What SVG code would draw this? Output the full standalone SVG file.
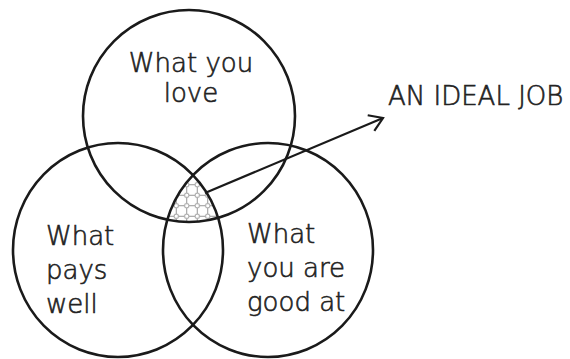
<svg xmlns="http://www.w3.org/2000/svg" width="570" height="359" viewBox="0 0 570 359">
  <style>
    .ring { fill: none; stroke: #1a1a1a; stroke-width: 2.6; }
    .lbl { font-family: "DejaVu Sans", "Liberation Sans", sans-serif; font-size: 26px; font-weight: 300; fill: #222; stroke: #222; stroke-width: 0.6; }
    .conn { fill: none; stroke: #1a1a1a; stroke-width: 2.2; }
  </style>
  <defs>
    <pattern id="net" x="3" y="1" width="10.5" height="10.5" patternUnits="userSpaceOnUse">
      <rect width="10.5" height="10.5" fill="#fff"/>
      <path d="M5.25 0V10.5M0 5.25H10.5" stroke="#8a8a8a" stroke-width="0.9"/>
      <circle cx="5.25" cy="5.25" r="2.3" fill="#fff" stroke="#8a8a8a" stroke-width="0.9"/>
    </pattern>
    <clipPath id="cTop"><circle cx="189" cy="116" r="106"/></clipPath>
    <clipPath id="cLeft"><ellipse cx="118" cy="250" rx="105" ry="107"/></clipPath>
    <clipPath id="cRight"><ellipse cx="268" cy="250" rx="105" ry="107"/></clipPath>
    <marker id="arr" markerUnits="userSpaceOnUse" markerWidth="30" markerHeight="30" refX="0" refY="0" viewBox="-16 -15 30 30" orient="auto" overflow="visible">
      <path d="M-13,-8.5 L0,0 L-13,8.5" fill="none" stroke="#1a1a1a" stroke-width="2.2" stroke-linejoin="miter"/>
    </marker>
  </defs>

  <g id="ideal-zone" clip-path="url(#cTop)">
    <g clip-path="url(#cLeft)">
      <rect x="140" y="140" width="100" height="100" fill="url(#net)" clip-path="url(#cRight)"/>
    </g>
  </g>

  <g id="love">
    <circle class="ring" cx="189" cy="116" r="106"/>
    <text class="lbl" x="191" y="72" text-anchor="middle">What you</text>
    <text class="lbl" x="191" y="102" text-anchor="middle">love</text>
  </g>

  <g id="pays">
    <ellipse class="ring" cx="118" cy="250" rx="105" ry="107"/>
    <text class="lbl" x="46" y="245">What</text>
    <text class="lbl" x="46" y="279">pays</text>
    <text class="lbl" x="46" y="313">well</text>
  </g>

  <g id="good">
    <ellipse class="ring" cx="268" cy="250" rx="105" ry="107"/>
    <text class="lbl" x="247" y="243">What</text>
    <text class="lbl" x="247" y="277">you are</text>
    <text class="lbl" x="247" y="311">good at</text>
  </g>

  <g id="ideal-job">
    <text class="lbl" x="388" y="105">AN IDEAL JOB</text>
  </g>

  <g id="connectors">
    <line class="conn" x1="205" y1="193" x2="383" y2="118" marker-end="url(#arr)"/>
  </g>
</svg>
